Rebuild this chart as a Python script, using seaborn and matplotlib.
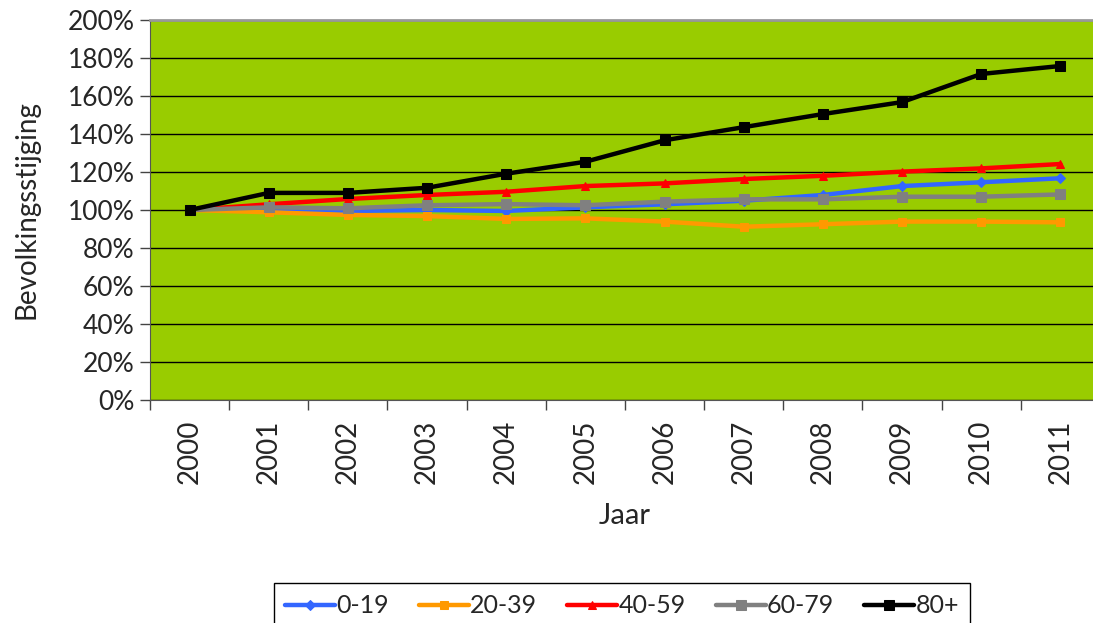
import numpy as np
import pandas as pd
import matplotlib
matplotlib.use("Agg")
import matplotlib.pyplot as plt
import seaborn as sns
from matplotlib.ticker import FixedLocator, PercentFormatter

# data (index 2000 = 100%)
years = [2000, 2001, 2002, 2003, 2004, 2005, 2006, 2007, 2008, 2009, 2010, 2011]
groups = ["0-19", "20-39", "40-59", "60-79", "80+"]
age_0_19 = [100, 100.7, 99.5, 100, 99.5, 101.4, 103, 104.9, 107.9, 112.6, 114.6, 116.7]
age_20_39 = [100, 98.8, 97.4, 96.8, 95.3, 95.6, 93.9, 91.2, 92.5, 93.9, 93.9, 93.5]
age_40_59 = [100, 103, 105.8, 107.9, 109.6, 112.6, 114, 116.3, 118, 120.2, 121.9, 124.2]
age_60_79 = [100, 101.4, 100.9, 102.5, 103.1, 102.5, 104.4, 105.6, 105.6, 107, 107, 108.2]
age_80_plus = [100, 109, 109, 111.7, 119.1, 125.4, 136.7, 143.6, 150.5, 156.8, 171.6, 175.8]

colors = {"0-19": "#3366FF", "20-39": "#FF9900", "40-59": "#FF0000",
          "60-79": "#808080", "80+": "#000000"}
markers = {"0-19": "D", "20-39": "s", "40-59": "^", "60-79": "s", "80+": "s"}
msize = {"0-19": 5, "20-39": 6, "40-59": 6, "60-79": 7, "80+": 7}

df = pd.DataFrame({
    "Jaar": years * 5,
    "waarde": age_0_19 + age_20_39 + age_40_59 + age_60_79 + age_80_plus,
    "groep": np.repeat(groups, len(years)),
})

sns.set_style("white")
plt.rcParams["font.family"] = ["Lato", "DejaVu Sans"]

fig = plt.figure(figsize=(10.93, 6.23), dpi=100)
ax = fig.add_axes([150 / 1093, (623 - 400) / 623, 950 / 1093, 380 / 623])
ax.set_facecolor("#99CC00")

for g in groups:
    sub = df[df["groep"] == g]
    sns.lineplot(data=sub, x="Jaar", y="waarde", ax=ax, color=colors[g],
                 marker=markers[g], markersize=msize[g], markeredgecolor=colors[g],
                 linewidth=3.2, label=g, zorder=3)

ax.set_xlim(1999.5, 2011.5)
ax.set_ylim(0, 200)
ax.set_yticks(np.arange(0, 201, 20))
ax.yaxis.set_major_formatter(PercentFormatter(decimals=0))
ax.set_xticks(years)
ax.set_xticklabels([str(y) for y in years], rotation=90)
ax.xaxis.set_minor_locator(FixedLocator(np.arange(1999.5, 2012, 1)))
ax.tick_params(axis="x", which="major", length=0, pad=14, labelsize=20)
ax.tick_params(axis="x", which="minor", length=7, width=1, color="#444444", direction="out", bottom=True)
ax.tick_params(axis="y", length=7, width=1, color="#444444", direction="out", left=True, labelsize=19, pad=4)

ax.grid(axis="y", color="black", linewidth=1)
ax.set_axisbelow(True)
ax.spines["right"].set_visible(False)
ax.spines["top"].set_color("#999999")
ax.spines["top"].set_linewidth(2)
ax.spines["left"].set_color("#555555")
ax.spines["bottom"].set_color("#555555")

ax.set_xlabel("Jaar", fontsize=21, labelpad=14)
ax.set_ylabel("Bevolkingsstijging", fontsize=20, labelpad=20)

leg = ax.legend(loc="upper center", bbox_to_anchor=(622 / 1093, (623 - 583) / 623),
                bbox_transform=fig.transFigure, ncol=5, frameon=True, fancybox=False,
                fontsize=18, handlelength=2.0, handletextpad=0.05, columnspacing=1.2,
                borderpad=0.45, borderaxespad=0, edgecolor="black", framealpha=1,
                facecolor="white")
leg.get_frame().set_linewidth(1)

fig.savefig("out.png", dpi=100, facecolor="white")
